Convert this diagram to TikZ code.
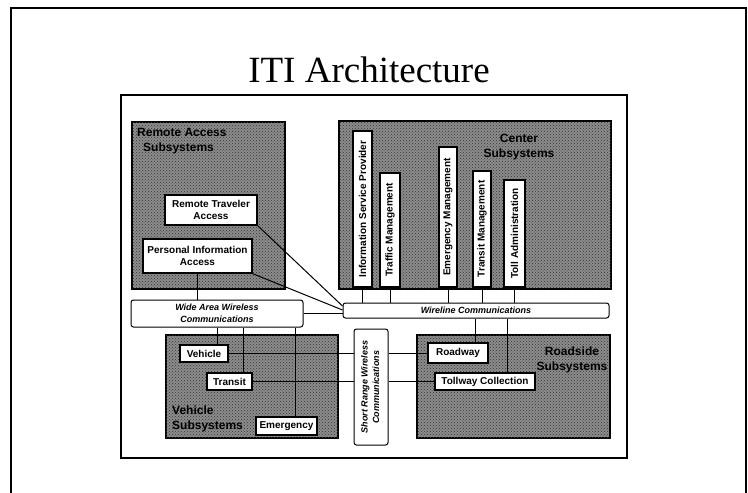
\documentclass[tikz,border=0pt]{standalone}
\usepackage{fontspec}
\setmainfont{Liberation Serif}
\setsansfont{Liberation Sans}
\usetikzlibrary{positioning, patterns}

\newcommand{\uptext}[1]{\rotatebox{90}{#1}}

\begin{document}
\begin{tikzpicture}[x=1pt, y=-1pt,
        subsys/.style={draw, line width=1.8pt, fill=black!45, inner sep=0pt,
            postaction={pattern=crosshatch dots, pattern color=black!80}},
        unit/.style={draw, line width=1.3pt, fill=white, inner sep=0pt, align=center,
            font=\sffamily\bfseries\fontsize{10}{11.5}\selectfont},
        comm/.style={draw, line width=1pt, rounded corners=2.5pt, fill=white, inner sep=0pt,
            align=center, font=\sffamily\bfseries\itshape\fontsize{9}{11.5}\selectfont},
        caption/.style={inner sep=0pt, font=\sffamily\bfseries\fontsize{12}{15}\selectfont},
        link/.style={line width=1pt}
    ]
    \useasboundingbox (0,0) rectangle (748,493);
    \draw[line width=2.6pt] (11,493) -- (11,8) -- (746,8) -- (746,493);
    \node[anchor=base, inner sep=0pt, font=\fontsize{37}{40}\selectfont] (title) at (369,82) {ITI Architecture};
    \draw[line width=2.6pt] (121,95) rectangle (627,458);

    \node[subsys, minimum width=153pt, minimum height=167pt] (remote) at (208.5,205.5) {};
    \node[caption, anchor=north west, align=left] (remotecap) at (137,128) {Remote Access\\\hspace{6pt}Subsystems};
    \node[unit, minimum width=92pt, minimum height=30pt] (RTA) at (211,210) {Remote Traveler\\Access};
    \node[unit, minimum width=109pt, minimum height=34pt] (PIA) at (197.5,256) {Personal Information\\Access};

    \node[subsys, minimum width=272pt, minimum height=168pt] (center) at (475,205) {};
    \node[caption, align=center] (centercap) at (519,147) {Center\\Subsystems};
    \node[unit, minimum width=19pt, minimum height=156pt] (ISP) at (362.5,209) {\uptext{Information Service Provider}};
    \node[unit, minimum width=20pt, minimum height=114pt] (TM) at (390,230) {\uptext{Traffic Management}};
    \node[unit, minimum width=18pt, minimum height=140pt] (EM) at (448,217) {\uptext{Emergency Management}};
    \node[unit, minimum width=18pt, minimum height=116pt] (TrM) at (482,229) {\uptext{Transit Management}};
    \node[unit, minimum width=21pt, minimum height=107pt] (TA) at (514.5,233.5) {\uptext{Toll Administration}};

    \node[comm, minimum width=172pt, minimum height=27pt] (WAW) at (217,313.5) {Wide Area Wireless\\Communications};
    \node[comm, minimum width=266pt, minimum height=15pt] (WC) at (476,310.5) {Wireline Communications};

    \node[subsys, minimum width=172pt, minimum height=103pt] (vehicle) at (252,386.5) {};
    \node[caption, anchor=south west, align=left] (vehiclecap) at (172,432) {Vehicle\\Subsystems};
    \node[unit, minimum width=48pt, minimum height=17pt] (Veh) at (204,353.5) {Vehicle};
    \node[unit, minimum width=45pt, minimum height=17pt] (Tra) at (229.5,381.5) {Transit};
    \node[unit, minimum width=61pt, minimum height=18pt] (Eme) at (286.5,426) {Emergency};

    \node[comm, minimum width=34pt, minimum height=116pt] (SRW) at (371,387) {\uptext{\begin{tabular}{@{}c@{}}Short Range Wireless\\Communications\end{tabular}}};

    \node[subsys, minimum width=193pt, minimum height=103pt] (roadside) at (513.5,386.5) {};
    \node[caption, align=center] (roadsidecap) at (572,360) {Roadside\\Subsystems};
    \node[unit, minimum width=60pt, minimum height=20pt] (Road) at (458,353) {Roadway};
    \node[unit, minimum width=100pt, minimum height=17pt] (Toll) at (485,381.5) {Tollway Collection};

    \draw[link] (PIA.south) -- (PIA.south |- WAW.north);
    \draw[link] (RTA.south east) -- ([yshift=4.5pt]WC.west);
    \draw[link] (PIA.south east) -- ([yshift=0.5pt]WC.west);
    \draw[link] (WAW.east) -- (WAW.east -| WC.west);
    \foreach \unitname in {ISP, TM, EM, TrM, TA}
        \draw[link] (\unitname.south) -- (\unitname.south |- WC.north);

    \draw[link] (WAW.south) -- (WAW.south |- Veh.north);
    \draw[link] ([xshift=13.5pt]Tra.north) -- ([xshift=13.5pt]Tra.north |- WAW.south);
    \draw[link] ([xshift=8.5pt]Eme.north) -- ([xshift=8.5pt]Eme.north |- WAW.south);
    \draw[link] (Veh.east) -- (Veh.east -| SRW.west);
    \draw[link] (Tra.east) -- (Tra.east -| SRW.west);
    \draw[link] (Road.west -| SRW.east) -- (Road.west);
    \draw[link] (Toll.west -| SRW.east) -- (Toll.west);
    \draw[link] ([xshift=17pt]Road.north) -- ([xshift=17pt]Road.north |- WC.south);
    \draw[link] ([xshift=22pt]Toll.north) -- ([xshift=22pt]Toll.north |- WC.south);
\end{tikzpicture}
\end{document}
